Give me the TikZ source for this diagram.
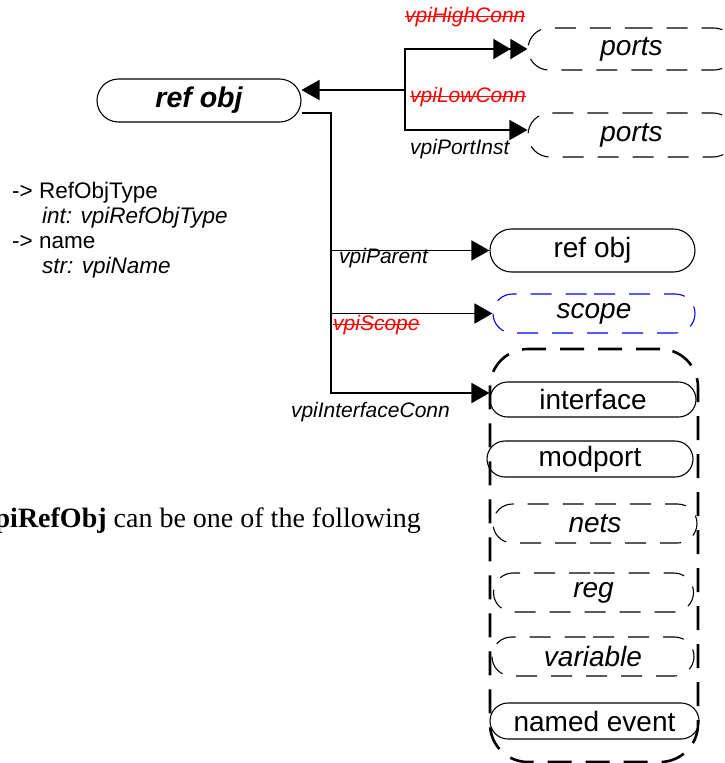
\documentclass[tikz,border=0pt]{standalone}
\usepackage{fontspec}
\setmainfont{Liberation Sans}
\newfontfamily\timesfont{Liberation Serif}
\usepackage{tikz}
\usetikzlibrary{shapes.misc, arrows.meta, positioning}
\newcommand{\strk}[1]{\setbox0\hbox{#1}\rlap{\rule[0.26em]{\wd0}{1.3pt}}\box0}

\begin{document}
\begin{tikzpicture}[x=1pt, y=-1pt,
    obj/.style={draw, rounded rectangle, line width=1.1pt, minimum width=205pt, minimum height=38pt, inner sep=0pt, font=\fontsize{28}{30}\selectfont},
    objdash/.style={obj, dash pattern=on 21pt off 14pt, font=\fontsize{28}{30}\selectfont\itshape},
    wire/.style={line width=1.8pt},
    conn/.style={wire, -{Triangle[length=18pt, width=20pt]}},
    lbl/.style={font=\fontsize{21}{24}\selectfont\itshape, inner sep=0pt},
    struck/.style={lbl, text=red}
]
\useasboundingbox (0,0) rectangle (724,763);

\node[obj, minimum width=204pt, minimum height=43pt, font=\fontsize{28.5}{30}\selectfont\bfseries\itshape] (refmain) at (199,100.5) {ref obj};
\node[objdash, minimum width=207pt, minimum height=42pt] (hiports) at (631.5,49) {ports};
\node[objdash, minimum width=207pt, minimum height=44pt] (loports) at (631.5,135) {ports};
\node[obj, minimum height=43pt] (parent) at (592.5,250.5) {ref obj};
\node[objdash, draw=blue, minimum width=202pt, minimum height=39pt] (scope) at (594,313.5) {scope};

% interface contents
\node[draw, rounded corners=38pt, line width=2.6pt, dash pattern=on 24pt off 14pt, minimum width=208pt, minimum height=413pt] (group) at (594,555.5) {};
\node[obj, minimum width=206pt, minimum height=35pt] (ifc) at (593,399.5) {interface};
\node[obj, minimum width=206pt, minimum height=36pt] (mport) at (590,459) {modport};
\node[objdash, minimum width=204pt, minimum height=39pt] (nets) at (595,523.5) {nets};
\node[objdash, minimum width=200pt, minimum height=39pt] (reg) at (593.5,592.5) {reg};
\node[objdash, minimum width=202pt, minimum height=39pt] (var) at (593,656.5) {variable};
\node[obj, minimum width=209pt, minimum height=36pt] (evt) at (594.5,721) {named event};

\node[struck, anchor=west] (lhigh) at (405,17) {\strk{vpiHighConn}};
\node[struck, anchor=west] (llow) at (410,97) {\strk{vpiLowConn}};
\node[lbl, anchor=west] (lport) at (410,149) {vpiPortInst};
\node[lbl, anchor=west] (lparent) at (339,258) {vpiParent};
\node[struck, anchor=west] (lscope) at (333,325) {\strk{vpiScope}};
\node[lbl, anchor=east] (lifc) at (450,412) {vpiInterfaceConn};

\node[anchor=north west, align=left, inner sep=0pt, font=\fontsize{22.5}{25}\selectfont] (props) at (12,182) {-> RefObjType\\ \hspace*{30pt}\textit{int: vpiRefObjType}\\ -> name\\ \hspace*{30pt}\textit{str: vpiName}};
\node[anchor=base east, inner sep=0pt, font=\timesfont\fontsize{28}{32}\selectfont] (note) at (421,527) {\textbf{vpiRefObj} can be one of the following};

\coordinate (fork) at (405,90);
\coordinate (trunk) at (331,393);
\draw[conn] (fork) -- ([yshift=10.5pt]refmain.east);
\draw[wire, -{Triangle[length=17pt, width=20pt]Triangle[length=17pt, width=20pt]}] (fork) |- (hiports.west);
\draw[conn] (fork) |- ([yshift=5pt]loports.west);

\draw[conn] ([yshift=-12.5pt]refmain.east) -| (trunk) -- ([yshift=6.5pt]ifc.west);
\draw[conn] (trunk |- parent.west) -- (parent.west);
\draw[conn] (trunk |- scope.west) -- (scope.west);

\end{tikzpicture}
\end{document}
